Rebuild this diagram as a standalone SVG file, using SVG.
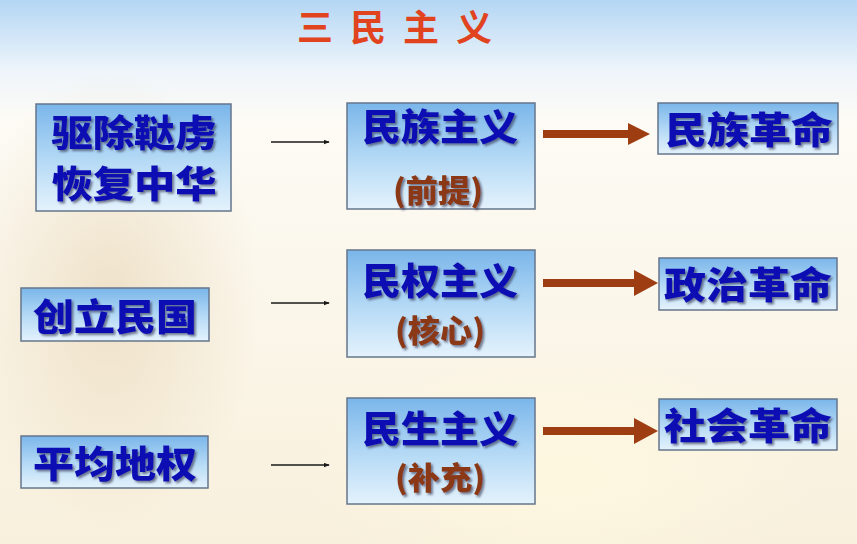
<svg xmlns="http://www.w3.org/2000/svg" width="857" height="544" viewBox="0 0 857 544">
  <defs>
    <linearGradient id="bg" x1="0" y1="0" x2="0" y2="1">
      <stop offset="0" stop-color="#b4d6f4"/>
      <stop offset="0.13" stop-color="#eef5fb"/>
      <stop offset="0.22" stop-color="#fdfbf5"/>
      <stop offset="1" stop-color="#f8f0dc"/>
    </linearGradient>
    <radialGradient id="blob" cx="0.5" cy="0.5" r="0.5">
      <stop offset="0" stop-color="#e6d3b2" stop-opacity="0.6"/>
      <stop offset="1" stop-color="#e6d3b2" stop-opacity="0"/>
    </radialGradient>
    <radialGradient id="blob2" cx="0.5" cy="0.5" r="0.5">
      <stop offset="0" stop-color="#fff8e0" stop-opacity="0.9"/>
      <stop offset="1" stop-color="#fff8e0" stop-opacity="0"/>
    </radialGradient>
    <linearGradient id="boxfill" x1="0" y1="0" x2="0" y2="1">
      <stop offset="0" stop-color="#7ab6ea"/>
      <stop offset="0.55" stop-color="#b7dbf6"/>
      <stop offset="1" stop-color="#e4f2fc"/>
    </linearGradient>
    <filter id="sh" x="-10%" y="-20%" width="130%" height="150%">
      <feDropShadow dx="2" dy="2" stdDeviation="0.8" flood-color="#2a2a4a" flood-opacity="0.6"/>
    </filter>
    <marker id="thin" viewBox="0 0 8 6" refX="7" refY="3" markerWidth="6" markerHeight="5" orient="auto" markerUnits="userSpaceOnUse">
      <path d="M0,0 L8,3 L0,6 z" fill="#1a1a1a"/>
    </marker>
  </defs>
  <style>
    .box { fill: url(#boxfill); stroke: #66768c; stroke-width: 1.5; }
    .big { font-family: "Noto Sans CJK SC", "Noto Sans CJK TC", sans-serif; font-weight: 900; font-size: 37px; fill: #1010b4; text-anchor: middle; filter: url(#sh); }
    .sub { font-family: "Noto Sans CJK SC", "Noto Sans CJK TC", sans-serif; font-weight: 900; font-size: 31px; fill: #8a3812; text-anchor: middle; filter: url(#sh); }
    .title { font-family: "Noto Sans CJK SC", "Noto Sans CJK TC", sans-serif; font-weight: 700; font-size: 36px; fill: #e0431e; }
    .thin { stroke: #1a1a1a; stroke-width: 1.3; fill: none; }
    .bold { fill: #9e3c12; }
  </style>

  <rect x="0" y="0" width="857" height="544" fill="url(#bg)"/>
  <ellipse cx="110" cy="300" rx="150" ry="230" fill="url(#blob)"/>
  <ellipse cx="560" cy="470" rx="260" ry="120" fill="url(#blob2)"/>

  <g id="title">
    <text class="title" x="297 350 403 456" y="41">三民主义</text>
  </g>

  <g id="n-qu">
    <rect class="box" x="36" y="104" width="195" height="107"/>
    <text class="big" x="134" y="147" textLength="165" lengthAdjust="spacingAndGlyphs">驱除鞑虏</text>
    <text class="big" x="134" y="198" textLength="165" lengthAdjust="spacingAndGlyphs">恢复中华</text>
  </g>
  <g id="n-chuang">
    <rect class="box" x="21" y="288" width="188" height="53"/>
    <text class="big" x="115" y="331" textLength="164" lengthAdjust="spacingAndGlyphs">创立民国</text>
  </g>
  <g id="n-ping">
    <rect class="box" x="21" y="436" width="187" height="52"/>
    <text class="big" x="115" y="478" textLength="164" lengthAdjust="spacingAndGlyphs">平均地权</text>
  </g>

  <g id="n-minzu">
    <rect class="box" x="347" y="103" width="188" height="106"/>
    <text class="big" x="440" y="141" textLength="156" lengthAdjust="spacingAndGlyphs">民族主义</text>
    <text class="sub" x="438" y="202" textLength="90" lengthAdjust="spacingAndGlyphs">(前提)</text>
  </g>
  <g id="n-minquan">
    <rect class="box" x="347" y="250" width="188" height="107"/>
    <text class="big" x="440" y="295" textLength="156" lengthAdjust="spacingAndGlyphs">民权主义</text>
    <text class="sub" x="440" y="342" textLength="90" lengthAdjust="spacingAndGlyphs">(核心)</text>
  </g>
  <g id="n-minsheng">
    <rect class="box" x="347" y="398" width="188" height="106"/>
    <text class="big" x="440" y="443" textLength="156" lengthAdjust="spacingAndGlyphs">民生主义</text>
    <text class="sub" x="440" y="489" textLength="90" lengthAdjust="spacingAndGlyphs">(补充)</text>
  </g>

  <g id="n-r1">
    <rect class="box" x="658" y="103" width="180" height="51"/>
    <text class="big" x="749" y="144" textLength="168" lengthAdjust="spacingAndGlyphs">民族革命</text>
  </g>
  <g id="n-r2">
    <rect class="box" x="659" y="258" width="178" height="52"/>
    <text class="big" x="748" y="299" textLength="168" lengthAdjust="spacingAndGlyphs">政治革命</text>
  </g>
  <g id="n-r3">
    <rect class="box" x="659" y="399" width="178" height="51"/>
    <text class="big" x="748" y="440" textLength="168" lengthAdjust="spacingAndGlyphs">社会革命</text>
  </g>

  <g id="connectors">
    <line class="thin" x1="271" y1="142" x2="329" y2="142" marker-end="url(#thin)"/>
    <line class="thin" x1="271" y1="303" x2="329" y2="303" marker-end="url(#thin)"/>
    <line class="thin" x1="271" y1="465" x2="329" y2="465" marker-end="url(#thin)"/>
    <path class="bold" d="M543,130 L628,130 L628,123 L650,134 L628,145 L628,138 L543,138 z"/>
    <path class="bold" d="M543,279 L634,279 L634,270 L658,283 L634,296 L634,287 L543,287 z"/>
    <path class="bold" d="M543,427 L634,427 L634,418 L658,431 L634,444 L634,435 L543,435 z"/>
  </g>
</svg>
